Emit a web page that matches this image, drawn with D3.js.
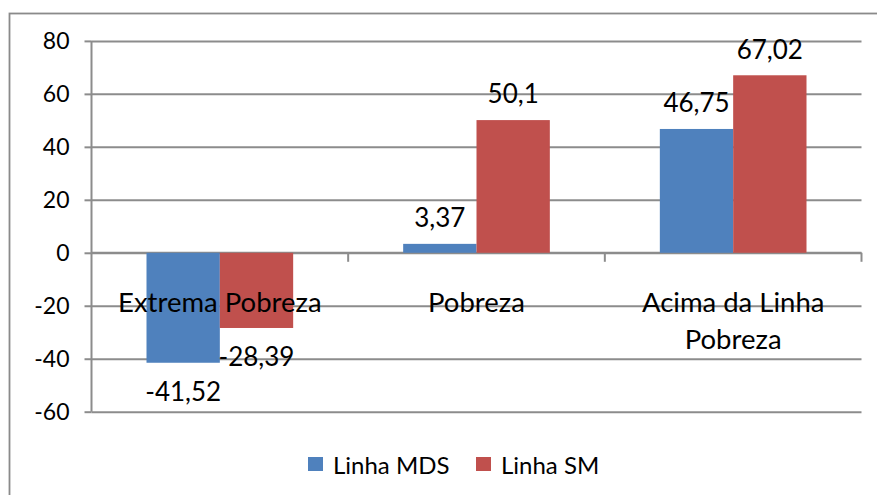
<!DOCTYPE html>
<html>
<head>
<meta charset="utf-8">
<script src="https://cdn.jsdelivr.net/npm/d3@7"></script>
<style>
  html, body { margin: 0; padding: 0; background: #fff; }
  svg { display: block; font-family: Lato, "Open Sans", sans-serif; }
</style>
</head>
<body>
<svg id="chart" width="877" height="495"></svg>
<script>
const categories = [["Extrema Pobreza"], ["Pobreza"], ["Acima da Linha", "Pobreza"]];
const seriesNames = ["Linha MDS", "Linha SM"];
const linhaMDS = [-41.52, 3.37, 46.75];
const linhaSM = [-28.39, 50.1, 67.02];
const yTicks = [-60, -40, -20, 0, 20, 40, 60, 80];
const colors = ["#4F81BD", "#C0504D"];

(function () {
const svg = d3.select("#chart");
const W = 877, H = 495;
const pL = 91.5, pR = 861.5, pT = 40.9, pB = 411.7;
const gridColor = "#8c8c8c";

svg.append("rect").attr("x", 0).attr("y", 0).attr("width", W).attr("height", H).attr("fill", "#fff");
// outer chart border (extends beyond the visible window)
svg.append("rect").attr("x", 9.5).attr("y", 13.5).attr("width", 900).attr("height", 520)
  .attr("fill", "none").attr("stroke", "#8a8a8a").attr("stroke-width", 1.8);

const catKeys = categories.map(c => c.join(" "));
const x = d3.scaleBand().domain(catKeys).range([pL, pR]).paddingInner(0).paddingOuter(0);
const y = d3.scaleLinear().domain([-60, 80]).range([pB, pT]);
const barW = x.bandwidth() / 3.5;
const x1 = d3.scaleBand().domain(seriesNames).range([0, 2 * barW]);

// gridlines + y axis
const yAxis = d3.axisLeft(y).tickValues(yTicks).tickSize(7).tickPadding(15).tickFormat(d => String(d));
const gy = svg.append("g").attr("transform", `translate(${pL},0)`).call(yAxis);
gy.select(".domain").attr("stroke", gridColor).attr("stroke-width", 2).attr("d", `M0,${pT}V${pB}`);
gy.selectAll(".tick line").attr("stroke", gridColor).attr("stroke-width", 2);
gy.selectAll(".tick").append("line").attr("x1", 0).attr("x2", pR - pL)
  .attr("stroke", gridColor).attr("stroke-width", 2);
gy.selectAll(".tick text").attr("fill", "#000").attr("font-size", 23).attr("font-family", "Lato");

// category axis at zero with tick marks between categories
const gx = svg.append("g").attr("transform", `translate(0,${y(0)})`);
gx.append("line").attr("x1", pL).attr("x2", pR).attr("stroke", gridColor).attr("stroke-width", 2);
const bounds = catKeys.map(k => x(k) + x.bandwidth());
gx.selectAll("line.ct").data(bounds).join("line").attr("class", "ct")
  .attr("x1", d => d).attr("x2", d => d).attr("y1", 0).attr("y2", 9)
  .attr("stroke", gridColor).attr("stroke-width", 2);

// bars
const data = catKeys.map((k, i) => ({ key: k, vals: [linhaMDS[i], linhaSM[i]] }));
const groups = svg.append("g").selectAll("g").data(data).join("g")
  .attr("transform", d => `translate(${x(d.key) + (x.bandwidth() - 2 * barW) / 2},0)`);
groups.selectAll("rect").data(d => d.vals.map((v, j) => ({ v, s: seriesNames[j], j })))
  .join("rect")
  .attr("x", d => x1(d.s))
  .attr("width", x1.bandwidth())
  .attr("y", d => y(Math.max(0, d.v)))
  .attr("height", d => Math.abs(y(d.v) - y(0)))
  .attr("fill", d => colors[d.j]);

// category labels
const catG = svg.append("g");
categories.forEach((lines, i) => {
  const cx = x(catKeys[i]) + x.bandwidth() / 2;
  const t = catG.append("text").attr("text-anchor", "middle").attr("font-size", 27.5).attr("fill", "#000");
  lines.forEach((ln, li) => {
    t.append("tspan").attr("x", cx).attr("y", 311.5 + li * 37).text(ln);
  });
});

// data labels
const fmt = v => String(v).replace(".", ",");
groups.selectAll("text.dl").data(d => d.vals.map((v, j) => ({ v, s: seriesNames[j], j })))
  .join("text").attr("class", "dl")
  .attr("x", d => x1(d.s) + x1.bandwidth() / 2)
  .attr("y", d => d.v >= 0 ? y(d.v) - 26 : y(d.v) + 29)
  .attr("dy", "0.36em")
  .attr("text-anchor", "middle").attr("font-size", 26).attr("fill", "#000")
  .text(d => fmt(d.v));

// legend
const leg = svg.append("g");
const legX = [308, 476];
seriesNames.forEach((n, i) => {
  leg.append("rect").attr("x", legX[i]).attr("y", 457).attr("width", 15).attr("height", 14).attr("fill", colors[i]);
  leg.append("text").attr("x", legX[i] + 25).attr("y", 474).attr("font-size", 24).attr("fill", "#000").text(n);
});
})();
</script>
</body>
</html>
